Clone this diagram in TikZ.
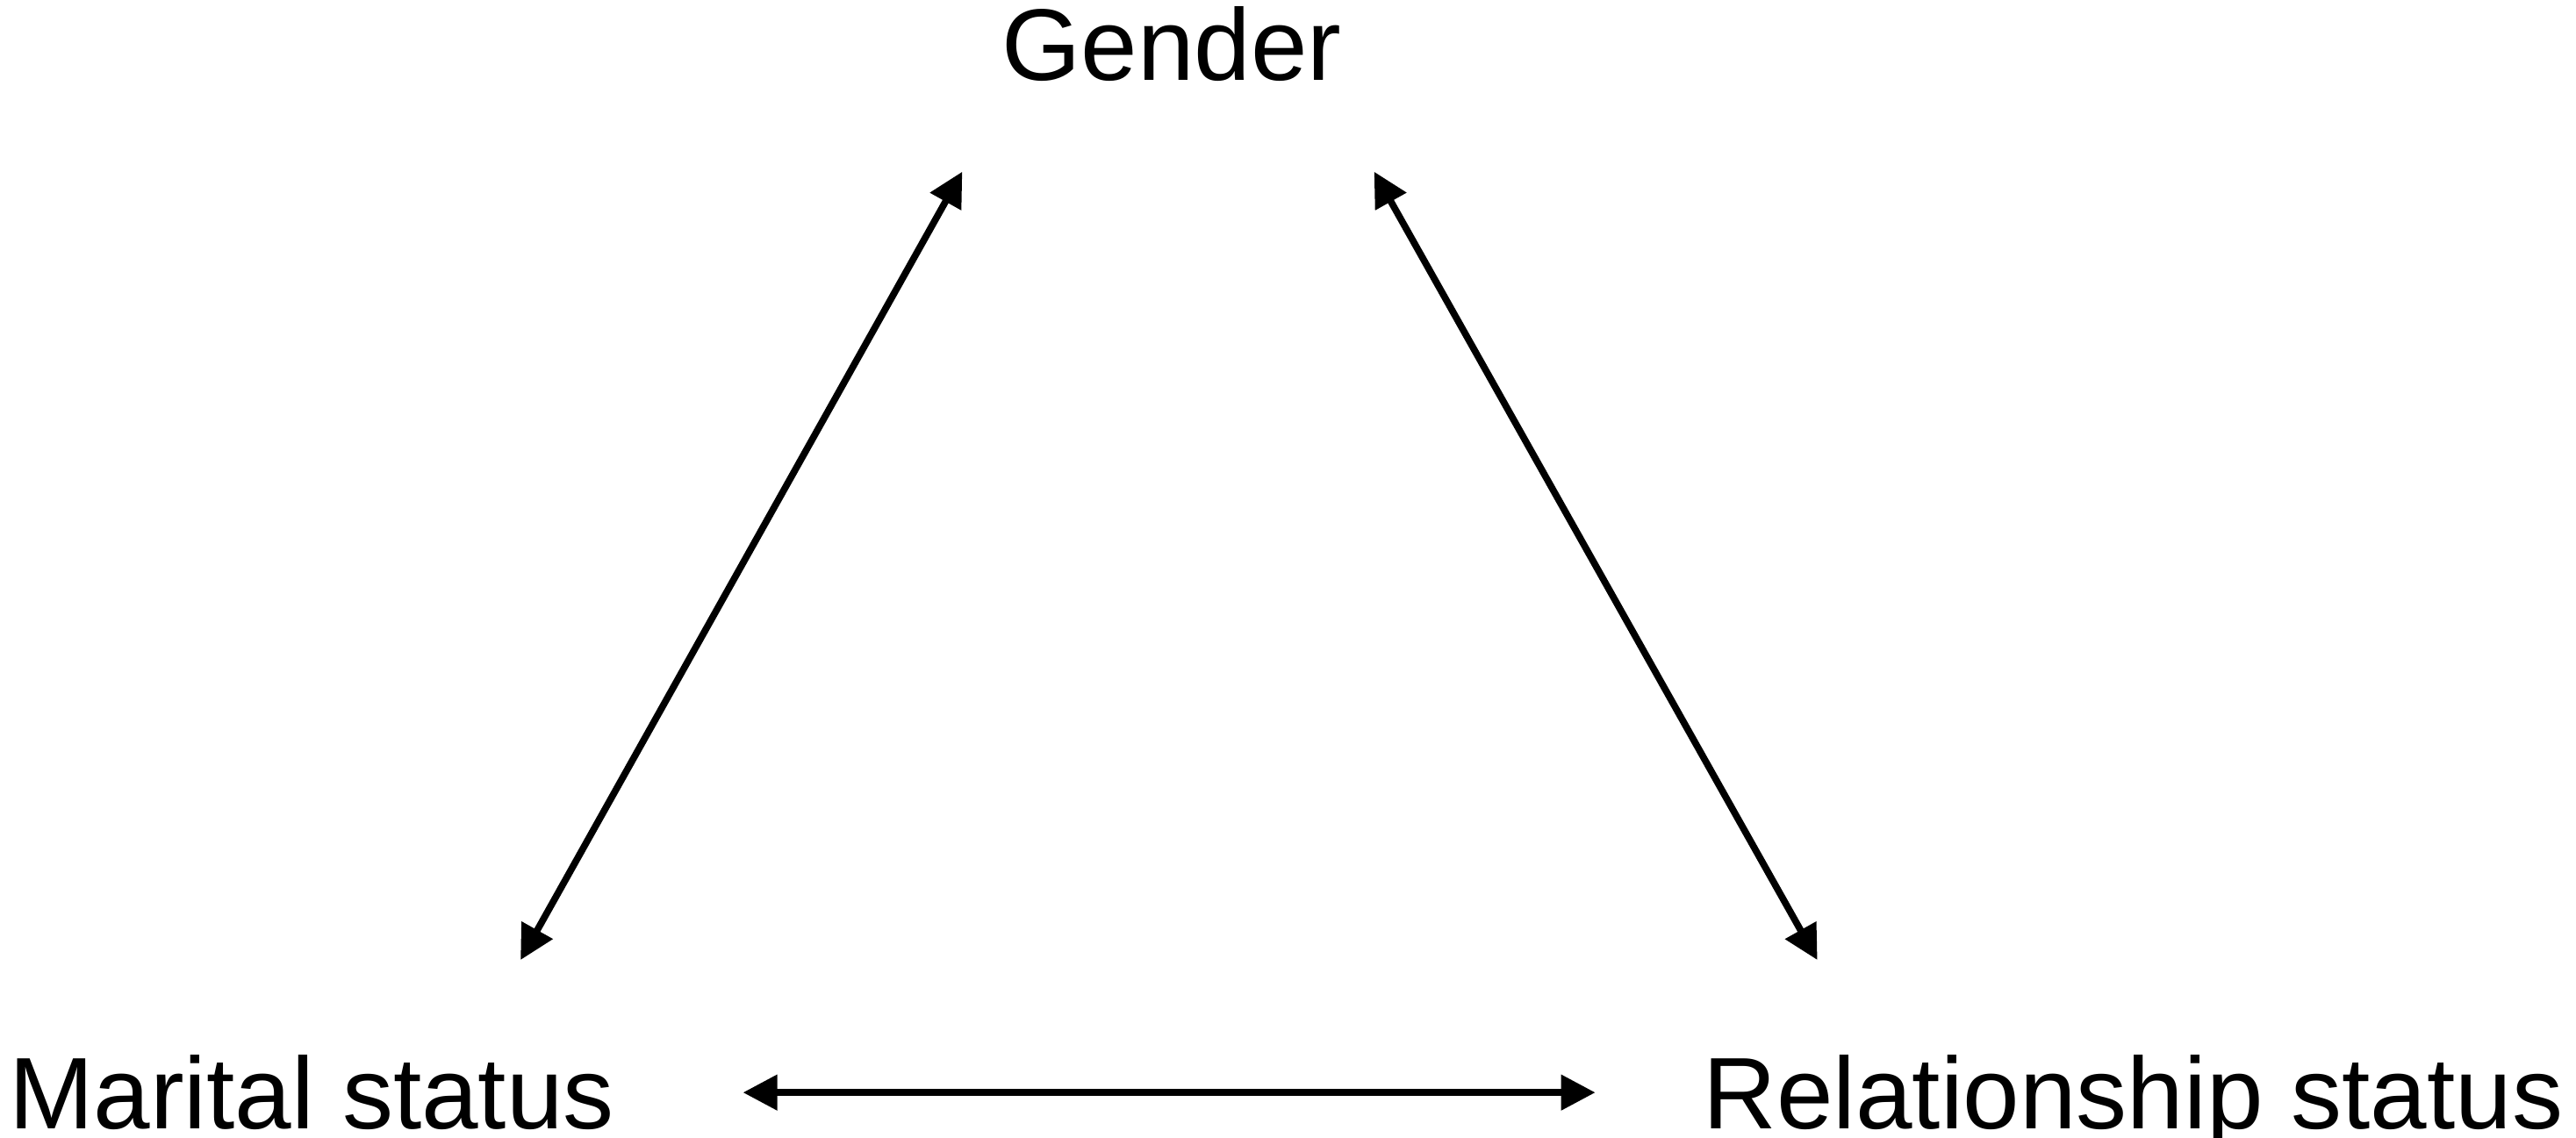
\documentclass[tikz,border=0pt]{standalone}
\usepackage{fontspec}
\setmainfont{Liberation Sans}
\usetikzlibrary{arrows.meta,positioning}
\tikzset{
  >={Triangle[length=3.9mm,width=3.9mm]},
  var/.style={font=\fontsize{33pt}{40pt}\selectfont,inner sep=0pt,
    text height=23.8pt,text depth=0pt},
  link/.style={<->,line width=2.2pt,draw=black},
}

\begin{document}
\begin{tikzpicture}
  \useasboundingbox (0,0) rectangle (29.35,12.97);
  % the three variables
  \node[var,anchor=base] (gender) at (13.35,12.05) {Gender};
  \node[var,anchor=base west] (marital) at (0.095,0.10) {Marital status};
  \node[var,anchor=base east] (relation) at (29.21,0.10) {Relationship status};
  % pairwise links
  \draw[link] ([xshift=-1.075cm,yshift=1.085cm]marital.north east)
    -- ([xshift=-0.445cm,yshift=-1.03cm]gender.south west);
  \draw[link] ([xshift=0.365cm,yshift=-1.03cm]gender.south east)
    -- ([xshift=1.31cm,yshift=1.085cm]relation.north west);
  \draw[link,shorten <=1.46cm,shorten >=1.22cm] (marital) -- (relation);
\end{tikzpicture}
\end{document}
